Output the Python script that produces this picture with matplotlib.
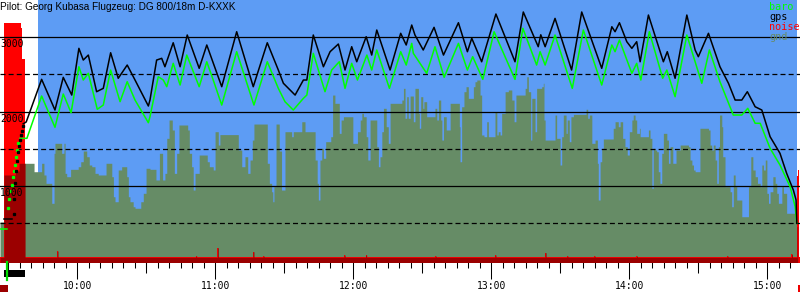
import matplotlib
matplotlib.use('Agg')
import matplotlib.pyplot as plt
import matplotlib.transforms as mtransforms
from matplotlib.patches import Rectangle
from matplotlib.ticker import FixedLocator, MultipleLocator, FuncFormatter
import numpy as np

# Zeit in Minuten nach 09:00, Höhen in m
title = 'Pilot: Georg Kubasa Flugzeug: DG 800/18m D-KXXK'

# gps: Boden, Motorsteigflug (Punkte), Flug
gps_ground_t = [28.1, 31.6]
gps_ground_alt = [557, 557]
gps_climb_t = [32.3, 32.7, 33.0, 33.4, 33.8, 34.2, 34.6, 35.0, 35.4, 35.8, 36.2]
gps_climb_alt = [620, 820, 1040, 1200, 1330, 1456, 1540, 1617, 1685, 1740, 1800]
gps_t = [36.5, 37.8, 44.5, 50.3, 53.9, 57.6, 60.7, 62.6, 64.8, 68.4,
         71.3, 74.5, 77.8, 81.7, 85.1, 90.9, 91.6, 94.5, 96.7, 98.1,
         101.7, 104.7, 107.8, 113.0, 116.3, 122.8, 129.3, 136.5, 142.6, 147.4,
         149.6, 154.7, 158.3, 159.8, 162.6, 167.0, 169.9, 173.5, 176.4, 179.3,
         181.5, 185.6, 188.0, 190.2, 196.0, 200.6, 203.0, 205.4, 206.8, 210.4,
         215.1, 219.2, 225.7, 229.6, 231.5, 235.8, 242.0, 250.3, 253.9, 260.4,
         261.5, 263.4, 267.7, 274.9, 279.3, 288.0, 292.4, 293.8, 295.7, 298.9,
         301.1, 303.2, 304.7, 308.3, 314.8, 316.5, 319.9, 325.0, 328.6, 330.0,
         334.4, 339.4, 343.1, 346.0, 348.9, 351.3, 354.7, 357.6, 361.2, 365.5,
         368.4, 371.3, 372.5, 372.8]
gps_alt = [1835, 1860, 2432, 2020, 2459, 2221, 2848, 2691, 2758, 2266,
           2311, 2789, 2446, 2624, 2423, 2074, 2154, 2691, 2714, 2601,
           2923, 2601, 3027, 2580, 2893, 2333, 3071, 2333, 2923, 2557,
           2379, 2221, 2423, 2423, 3027, 2601, 2803, 2906, 2557, 2870,
           2668, 3004, 2758, 3094, 2557, 3050, 2893, 3161, 3027, 2826,
           3130, 2758, 3192, 2803, 2983, 2668, 3309, 2668, 3336, 2870,
           3030, 2870, 3250, 2557, 3336, 2580, 3138, 3071, 3192, 2937,
           2848, 2937, 2668, 3295, 2668, 2803, 2446, 3295, 2826, 2736,
           3050, 2601, 2379, 2154, 2154, 2266, 2064, 2020, 1662, 1439,
           1170, 946, 812, 499]

# baro
baro_ground_t = [26.4, 29.4]
baro_ground_alt = [423, 423]
baro_climb_t = [29.9, 30.4, 30.9, 31.4, 31.9, 32.4, 32.9, 33.4, 33.9, 34.4]
baro_climb_alt = [700, 830, 930, 1020, 1120, 1200, 1280, 1390, 1480, 1580]
baro_t = [35.1, 38.1, 44.5, 50.3, 53.9, 57.3, 60.7, 62.6, 64.8, 68.7,
          71.3, 74.5, 78.6, 81.7, 85.1, 90.9, 91.6, 95.2, 97.4, 98.9,
          101.7, 104.7, 107.6, 113.0, 116.3, 119.1, 122.8, 129.3, 136.8, 142.6,
          147.4, 150.3, 153.9, 158.3, 159.8, 162.6, 167.7, 170.6, 173.9, 176.4,
          179.3, 181.8, 185.9, 188.0, 190.2, 195.7, 200.6, 203.0, 205.4, 206.1,
          211.9, 215.5, 219.5, 225.7, 229.6, 231.9, 236.3, 241.2, 250.3, 253.7,
          259.7, 261.2, 263.4, 267.7, 275.2, 280.0, 288.0, 292.4, 293.8, 295.7,
          301.1, 303.2, 305.0, 308.7, 314.5, 316.3, 319.9, 325.0, 331.5, 334.8,
          339.4, 345.2, 348.9, 351.5, 354.7, 356.9, 361.2, 365.5, 369.9, 372.1,
          372.8]
baro_alt = [1640, 1640, 2208, 1788, 2235, 1984, 2601, 2423, 2513, 2030,
            2087, 2557, 2132, 2400, 2154, 1850, 1930, 2467, 2423, 2333,
            2647, 2356, 2758, 2333, 2668, 2423, 2087, 2803, 2087, 2668,
            2311, 2132, 2020, 2177, 2221, 2781, 2266, 2557, 2668, 2311,
            2647, 2423, 2758, 2557, 2826, 2311, 2803, 2624, 2915, 2781,
            2513, 2870, 2459, 2915, 2557, 2736, 2432, 3071, 2432, 3117,
            2624, 2803, 2624, 3027, 2311, 3094, 2356, 2893, 2803, 2960,
            2513, 2647, 2423, 3071, 2446, 2557, 2199, 3027, 2379, 2826,
            2400, 1953, 1953, 2043, 1842, 1842, 1506, 1282, 991, 722,
            499]

# Gelände (Stufen)
gnd_t = [26.4, 28.1, 33.1, 34.7, 41.2, 44.5, 45.5, 46.4, 48.9, 49.9,
         50.3, 53.2, 54.2, 54.7, 55.4, 57.1, 60.4, 61.5, 62.6, 64.1,
         65.2, 66.3, 67.7, 69.1, 72.5, 75.0, 75.7, 76.4, 77.8, 79.3,
         81.5, 82.2, 82.9, 84.3, 85.1, 87.6, 88.7, 89.9, 91.6, 94.2,
         95.7, 97.1, 98.1, 98.9, 99.9, 101.3, 102.2, 103.2, 104.2, 108.0,
         108.7, 109.7, 110.4, 111.2, 113.0, 116.5, 117.4, 119.1, 119.9, 121.3,
         122.0, 130.0, 131.5, 132.9, 134.1, 135.1, 136.1, 136.8, 142.6, 143.5,
         144.5, 145.0, 145.5, 146.4, 147.8, 148.8, 150.3, 153.2, 153.9, 157.6,
         159.0, 163.4, 164.3, 164.8, 165.5, 166.3, 167.0, 168.0, 170.2, 171.0,
         172.0, 173.9, 174.7, 175.7, 179.8, 181.8, 183.0, 183.7, 184.4, 185.6,
         186.3, 187.3, 190.2, 190.9, 191.6, 192.4, 193.1, 194.3, 195.2, 196.0,
         201.1, 201.8, 202.5, 203.2, 203.9, 204.7, 206.1, 206.8, 208.3, 208.7,
         209.3, 210.2, 210.7, 211.9, 215.5, 216.3, 217.0, 218.0, 218.5, 219.2,
         220.4, 222.1, 226.1, 226.4, 227.1, 228.1, 229.0, 230.0, 232.2, 232.9,
         233.7, 235.1, 235.8, 236.8, 238.0, 238.7, 241.6, 242.4, 243.0, 243.8,
         244.5, 246.0, 247.4, 248.9, 249.9, 250.7, 254.7, 255.4, 256.1, 257.1,
         257.6, 259.0, 259.7, 261.9, 262.6, 262.9, 263.4, 267.7, 268.4, 269.9,
         270.6, 271.3, 272.5, 273.0, 273.9, 274.6, 275.7, 281.2, 281.9, 282.6,
         283.7, 285.1, 286.1, 286.5, 287.3, 288.0, 288.7, 293.0, 293.8, 295.2,
         296.0, 297.1, 298.1, 299.1, 300.0, 301.1, 301.7, 302.5, 303.2, 304.4,
         304.7, 308.3, 309.0, 309.8, 310.4, 311.2, 311.9, 312.6, 313.3, 314.1,
         314.8, 316.3, 317.0, 317.7, 318.9, 320.3, 322.1, 325.7, 326.4, 327.2,
         327.9, 328.6, 330.7, 334.4, 335.1, 335.8, 336.5, 337.3, 338.0, 338.7,
         339.2, 340.2, 340.6, 341.6, 343.8, 344.5, 345.2, 346.0, 346.7, 348.9,
         351.8, 352.8, 353.7, 354.7, 355.7, 356.9, 357.6, 358.3, 359.1, 359.8,
         360.5, 361.2, 362.4, 363.4, 364.1, 364.8, 366.3, 367.0, 368.4, 372.1,
         372.8, 373.2]
gnd_alt = [517, 1148, 1201, 1305, 1192, 1305, 1148, 1036, 768, 1439,
           1573, 1439, 1573, 1170, 1125, 1224, 1259, 1326, 1470, 1393,
           1282, 1259, 1170, 1148, 1305, 1125, 856, 789, 1215, 1259,
           1125, 856, 789, 722, 701, 789, 902, 1238, 1224, 1081,
           1439, 1081, 1170, 1640, 1886, 1752, 1170, 1439, 1819, 1752,
           1439, 1259, 946, 1170, 1416, 1326, 1259, 1215, 1729, 1550,
           1690, 1483, 1259, 1393, 1170, 1349, 1617, 1832, 1305, 1036,
           923, 789, 991, 1832, 1470, 946, 1729, 1662, 1729, 1863,
           1729, 1349, 1036, 812, 1349, 1506, 1372, 1595, 1662, 2221,
           2110, 1707, 1886, 1930, 1573, 1729, 1886, 1976, 1930, 1662,
           1349, 1886, 1528, 1259, 1393, 1729, 2043, 1796, 1573, 2110,
           2154, 2311, 1909, 2199, 1909, 2208, 1863, 2311, 1976, 1775,
           2199, 2043, 2132, 1930, 2043, 1886, 2154, 1886, 1617, 1930,
           1752, 2110, 1796, 1326, 2064, 2266, 2333, 2177, 2333, 2400,
           2423, 2221, 1685, 1662, 1863, 1662, 1997, 1685, 1729, 1685,
           1976, 2266, 2289, 2154, 1863, 2221, 2311, 2467, 2266, 1617,
           2177, 1729, 2311, 2333, 2379, 1886, 1617, 1953, 1640, 1282,
           1662, 1953, 1707, 1886, 1595, 1930, 1962, 2030, 1909, 1953,
           1573, 1617, 1305, 812, 1326, 1506, 1631, 1775, 1863, 1796,
           1863, 1640, 1528, 1416, 1729, 1886, 1953, 1886, 1707, 1775,
           1662, 1752, 1640, 969, 1506, 1483, 1460, 1192, 1036, 1439,
           1707, 1617, 1305, 1528, 1305, 1483, 1550, 1528, 1349, 1282,
           1215, 1192, 1775, 1752, 1550, 1483, 1550, 1349, 1036, 1528,
           1953, 1796, 1393, 991, 923, 722, 1148, 991, 812, 588,
           991, 1393, 1215, 1125, 1036, 991, 1282, 1215, 1349, 902,
           768, 923, 1125, 1036, 902, 768, 991, 902, 634, 544,
           454, 454]

# Motorgeräusch (Stufen, in Höhen-Einheiten)
noise_t = [26.4, 28.1, 35.6, 35.9, 37.3, 51.2, 51.6, 111.5, 111.9, 120.9,
           121.3, 136.4, 136.8, 140.8, 141.2, 176.0, 176.4, 185.4, 185.8, 215.6,
           216.0, 241.6, 242.0, 263.4, 263.8, 272.9, 273.3, 284.7, 285.1, 303.1,
           303.5, 342.5, 342.9, 370.5, 370.9, 372.9, 373.3, 373.7, 374.2]
noise_v = [43, 3190, 3120, 2700, 43, 127, 43, 60, 43, 172,
           43, 118, 43, 60, 43, 74, 43, 74, 43, 60,
           43, 74, 43, 105, 43, 60, 43, 60, 43, 60,
           43, 60, 43, 87, 43, 1140, 1215, 43, 43]

task_span = [42.9, 372.9]
engine_run = [28.1, 37.3]
takeoff_t = 29.4
alt_labels = [1000, 2000, 3000]
x_range = [26.4, 374.2]
y_range = [-20, 3497]

BLUE = '#5d9cf4'
GND = '#668c66'
DARK_RED = '#9b0000'
BARO = '#00ff00'
MONO = 'DejaVu Sans Mono'

assert len(gnd_t) == len(gnd_alt) and len(noise_t) == len(noise_v)
assert len(gps_t) == len(gps_alt) and len(baro_t) == len(baro_alt)


def step_at(ts, vs, q):
    ts = np.asarray(ts); vs = np.asarray(vs)
    i = np.searchsorted(ts, q, side='right') - 1
    ok = (i >= 0) & (q < ts[-1])
    return np.where(ok, vs[np.clip(i, 0, len(vs) - 1)], -100)


fig = plt.figure(figsize=(8, 3), dpi=100)
ax = fig.add_axes([0, 38 / 300, 1, 262 / 300])
ax.set_xlim(*x_range)
ax.set_ylim(*y_range)
for s in ax.spines.values():
    s.set_visible(False)

ax.axvspan(task_span[0], task_span[1], color=BLUE, lw=0, zorder=0)
ax.fill_between(gnd_t, -100, gnd_alt, step='post', color=GND, lw=0, zorder=1)
ax.fill_between(noise_t, -100, noise_v, step='post', color='#ff0000', lw=0, zorder=2)
q = np.union1d(gnd_t, noise_t)
overlap = np.minimum(step_at(gnd_t, gnd_alt, q), step_at(noise_t, noise_v, q))
ax.fill_between(q, -100, overlap, step='post', color=DARK_RED, lw=0, zorder=2.5)

for a in [1000, 2000, 3000]:
    ax.axhline(a, color='black', lw=0.9, zorder=3)
for a in [500, 1500, 2500]:
    ax.axhline(a, color='black', lw=0.9, dashes=(4, 2.5), zorder=3)

ax.plot(baro_ground_t, baro_ground_alt, color=BARO, lw=1.1, zorder=4)
ax.plot(baro_climb_t, baro_climb_alt, 's', color=BARO, ms=1.4, zorder=4)
ax.plot(baro_t, baro_alt, color=BARO, lw=1.1, zorder=4)
ax.plot(gps_ground_t, gps_ground_alt, color='black', lw=1.1, zorder=5)
ax.plot(gps_climb_t, gps_climb_alt, 's', color='black', ms=1.4, zorder=5)
ax.plot(gps_t, gps_alt, color='black', lw=1.1, zorder=5)

trans_y = mtransforms.blended_transform_factory(ax.transAxes, ax.transData)
for a in alt_labels:
    ax.annotate(str(a), (0, a), xycoords=trans_y, xytext=(0, -1.5),
                textcoords='offset points', va='top', ha='left',
                family=MONO, fontsize=7, zorder=6)

# Zeitachse
fmt = FuncFormatter(lambda v, p: f"{int(9 + v // 60)}:{int(v % 60):02d}")
ax.xaxis.set_major_locator(FixedLocator([60, 120, 180, 240, 300, 360]))
ax.xaxis.set_major_formatter(fmt)
ax.xaxis.set_minor_locator(MultipleLocator(5))
ax.tick_params(axis='x', which='major', length=12.5, width=0.75, pad=1.5,
               labelsize=7)
ax.tick_params(axis='x', which='minor', length=4, width=0.75)
for lab in ax.get_xticklabels():
    lab.set_family(MONO)
ax.set_yticks([])
sec = ax.secondary_xaxis('bottom')
sec.set_xticks([30, 90, 150, 210, 270, 330])
sec.tick_params(length=8, width=0.75, labelbottom=False)
for s in sec.spines.values():
    s.set_visible(False)

# Markierungen unter der Achse
trans_x = mtransforms.blended_transform_factory(ax.transData, ax.transAxes)
ax.add_patch(Rectangle((engine_run[0], -0.0573), engine_run[1] - engine_run[0], 0.0267,
                       transform=trans_x, color='black', clip_on=False, lw=0))
ax.plot([takeoff_t, takeoff_t], [0, -0.069], transform=trans_x, color='#00dd00',
        lw=1.6, clip_on=False, zorder=6)
ax.add_patch(Rectangle((x_range[0], -0.1145), 3.5, 0.0267, transform=trans_x,
                       color=DARK_RED, clip_on=False, lw=0))
ax.add_patch(Rectangle((373.3, -0.1145), 0.9, 0.0267, transform=trans_x,
                       color='#ee0000', clip_on=False, lw=0))

fig.text(0.0, 1 - 7 / 300, title, va='center', ha='left',
         family='Liberation Sans', fontsize=7.2)
legend = [('baro', BARO), ('gps', 'black'), ('noise', '#ff0000'), ('gnd', GND)]
for i, (name, col) in enumerate(legend):
    fig.text(769 / 800, 1 - (10.5 + 10 * i) / 300, name, color=col,
             family=MONO, fontsize=7.3, va='baseline', ha='left')

fig.savefig('out.png', dpi=100)
